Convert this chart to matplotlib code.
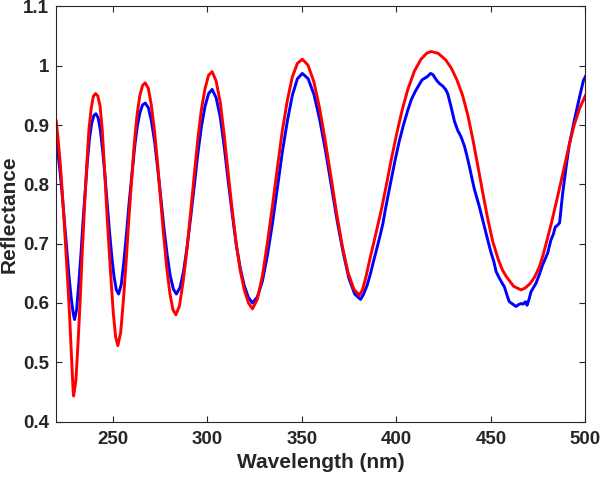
import matplotlib
matplotlib.use("Agg")
import matplotlib.pyplot as plt

# Measured reflectance (blue, noisy)
meas_wl = [
    220.0, 221.0, 222.0, 223.0, 224.0, 225.0, 226.0, 227.0, 228.0, 229.0, 229.7,
    230.8, 231.9, 233.1, 234.2, 235.4, 236.5, 237.6, 238.7, 239.9, 241.0,
    242.2, 243.4, 244.6, 245.8, 247.0, 248.2, 249.4, 250.6, 251.8, 253.0,
    254.4, 255.8, 257.2, 258.6, 260.1, 261.5, 262.9, 264.3, 265.7, 267.1,
    268.8, 270.4, 272.1, 273.7, 275.4, 277.0, 278.7, 280.3, 282.0, 283.6,
    285.5, 287.4, 289.3, 291.2, 293.1, 294.9, 296.8, 298.7, 300.6, 302.5,
    304.6, 306.8, 308.9, 311.0, 313.2, 315.3, 317.4, 319.5, 321.7, 323.8,
    326.4, 329.1, 331.7, 334.4, 337.0, 339.6, 342.3, 344.9, 347.6, 350.2,
    353.3, 356.4, 359.4, 362.5, 365.6, 368.7, 371.8, 374.8, 377.9, 381.0,
    382.5, 384.5, 386.3, 388.0, 389.8, 391.6, 392.9, 394.1, 395.8, 397.5,
    399.3, 401.5, 403.7, 406.0, 408.0, 410.0, 412.0, 413.5, 415.0, 416.5, 418.0,
    419.3, 421.1, 422.7, 424.4, 426.0, 427.1, 428.8, 430.7, 432.4, 434.2,
    436.0, 437.2, 438.6, 439.8, 441.2, 442.1, 443.8, 445.6, 447.0, 448.3,
    450.1, 451.5, 452.7, 454.4, 455.8, 457.1, 458.8, 459.7, 461.5, 463.3,
    464.5, 465.9, 467.0, 468.2, 469.1, 470.2, 471.2, 472.5, 473.8, 475.6,
    477.3, 480.0, 481.7, 483.0, 484.0, 485.2, 486.3, 487.9, 489.7, 491.4,
    494.1, 496.7, 498.9, 500.0,
]
meas_refl = [
    0.872, 0.850, 0.822, 0.788, 0.750, 0.710, 0.672, 0.637, 0.606, 0.582, 0.572,
    0.589, 0.631, 0.683, 0.739, 0.791, 0.839, 0.877, 0.902, 0.916, 0.919,
    0.912, 0.890, 0.856, 0.814, 0.767, 0.720, 0.678, 0.644, 0.622, 0.615,
    0.631, 0.670, 0.718, 0.770, 0.818, 0.863, 0.898, 0.921, 0.934, 0.937,
    0.929, 0.906, 0.871, 0.826, 0.776, 0.726, 0.681, 0.646, 0.623, 0.615,
    0.626, 0.654, 0.696, 0.746, 0.799, 0.851, 0.897, 0.931, 0.953, 0.960,
    0.946, 0.913, 0.863, 0.805, 0.748, 0.697, 0.658, 0.629, 0.609, 0.600,
    0.610, 0.637, 0.680, 0.734, 0.794, 0.854, 0.907, 0.950, 0.978, 0.987,
    0.978, 0.951, 0.909, 0.856, 0.797, 0.737, 0.685, 0.642, 0.615, 0.606,
    0.614, 0.630, 0.650, 0.672, 0.694, 0.717, 0.735, 0.757, 0.785, 0.812,
    0.841, 0.873, 0.900, 0.925, 0.944, 0.957, 0.968, 0.976, 0.979, 0.982, 0.987,
    0.985, 0.976, 0.970, 0.966, 0.960, 0.953, 0.932, 0.906, 0.891, 0.880,
    0.864, 0.849, 0.830, 0.812, 0.792, 0.782, 0.763, 0.740, 0.722, 0.706,
    0.684, 0.670, 0.653, 0.642, 0.634, 0.627, 0.610, 0.602, 0.598, 0.594,
    0.597, 0.599, 0.598, 0.602, 0.596, 0.607, 0.619, 0.626, 0.633, 0.648,
    0.664, 0.684, 0.706, 0.716, 0.728, 0.731, 0.735, 0.784, 0.828, 0.866,
    0.908, 0.945, 0.975, 0.982,
]

# Fitted reflectance (red, smooth)
fit_wl = [
    220.0, 221.0, 222.0, 223.0, 224.0, 225.0, 226.0, 227.0, 227.8, 228.4, 228.9, 229.2,
    230.4, 231.5, 232.7, 233.8, 235.0, 236.2, 237.3, 238.5, 239.6, 240.8,
    242.0, 243.2, 244.3, 245.5, 246.7, 247.9, 249.1, 250.2, 251.4, 252.6,
    254.1, 255.5, 257.0, 258.4, 259.9, 261.3, 262.8, 264.2, 265.7, 267.1,
    268.7, 270.3, 272.0, 273.6, 275.2, 276.8, 278.4, 280.1, 281.7, 283.3,
    285.2, 287.1, 289.1, 291.0, 292.9, 294.8, 296.7, 298.7, 300.6, 302.5,
    304.6, 306.8, 308.9, 311.0, 313.2, 315.3, 317.4, 319.5, 321.7, 323.8,
    326.4, 329.1, 331.7, 334.4, 337.0, 339.6, 342.3, 344.9, 347.6, 350.2,
    353.2, 356.3, 359.3, 362.3, 365.4, 368.4, 371.4, 374.4, 377.5, 380.4,
    382.0, 383.8, 385.8, 388.9, 392.0, 394.6, 397.2, 400.1, 403.0, 406.0,
    409.5, 413.0, 416.0, 418.3, 422.0, 426.0, 429.0, 432.0, 435.0, 437.8,
    440.4, 443.0, 445.7, 448.3, 450.9, 454.0, 456.0, 458.0, 462.0, 465.9,
    468.0, 470.5, 473.0, 475.5, 477.5, 479.5, 482.0, 485.0, 488.0, 491.0,
    494.0, 497.0, 500.0,
]
fit_refl = [
    0.907, 0.876, 0.840, 0.797, 0.748, 0.695, 0.640, 0.583, 0.530, 0.487, 0.455, 0.443,
    0.469, 0.530, 0.606, 0.688, 0.764, 0.836, 0.892, 0.928, 0.948, 0.953,
    0.949, 0.932, 0.894, 0.830, 0.758, 0.694, 0.634, 0.583, 0.543, 0.528,
    0.550, 0.603, 0.670, 0.741, 0.807, 0.869, 0.918, 0.949, 0.967, 0.971,
    0.962, 0.934, 0.890, 0.836, 0.776, 0.715, 0.661, 0.617, 0.589, 0.580,
    0.595, 0.635, 0.688, 0.750, 0.812, 0.873, 0.924, 0.961, 0.984, 0.990,
    0.974, 0.938, 0.882, 0.818, 0.754, 0.698, 0.654, 0.622, 0.600, 0.590,
    0.606, 0.646, 0.701, 0.764, 0.828, 0.890, 0.942, 0.981, 1.004, 1.011,
    1.001, 0.973, 0.929, 0.874, 0.812, 0.750, 0.695, 0.651, 0.623, 0.613,
    0.622, 0.643, 0.672, 0.714, 0.757, 0.798, 0.841, 0.885, 0.925, 0.960,
    0.991, 1.011, 1.021, 1.024, 1.021, 1.010, 0.996, 0.976, 0.950, 0.916,
    0.876, 0.832, 0.785, 0.742, 0.704, 0.672, 0.656, 0.645, 0.628, 0.622,
    0.625, 0.632, 0.643, 0.660, 0.680, 0.704, 0.735, 0.776, 0.818, 0.861,
    0.900, 0.929, 0.950,
]

x_ticks = [250, 300, 350, 400, 450, 500]
y_ticks = [0.4, 0.5, 0.6, 0.7, 0.8, 0.9, 1.0, 1.1]
y_tick_labels = ["0.4", "0.5", "0.6", "0.7", "0.8", "0.9", "1", "1.1"]

plt.rcParams['font.family'] = ['Liberation Sans', 'DejaVu Sans']
plt.rcParams['font.weight'] = 'bold'

dark = '#262626'

fig = plt.figure(figsize=(6.0, 4.79), dpi=100)
ax = fig.add_axes([0.0937, 0.120, 0.8821, 0.8666])

ax.plot(meas_wl, meas_refl, color='#0000ff', linewidth=2.1, solid_joinstyle='round')
ax.plot(fit_wl, fit_refl, color='#ff0000', linewidth=2.1, solid_joinstyle='round')

ax.set_xlim(220, 500)
ax.set_ylim(0.4, 1.1)
ax.set_xticks(x_ticks)
ax.set_yticks(y_ticks)
ax.set_yticklabels(y_tick_labels)

ax.tick_params(direction='in', top=True, right=True, length=4.5, width=0.8,
               colors=dark, labelsize=13.5)
ax.tick_params(axis='x', pad=7)
ax.tick_params(axis='y', pad=5)
for lab in ax.get_xticklabels() + ax.get_yticklabels():
    lab.set_fontweight('bold')
for sp in ax.spines.values():
    sp.set_color(dark)
    sp.set_linewidth(0.8)

fig.text(0.5347, 1 - 463 / 479, "Wavelength (nm)", ha='center', va='center',
         fontsize=15, fontweight='bold', color=dark)
fig.text(9 / 600, 1 - 214 / 479, "Reflectance", ha='center', va='center',
         rotation=90, fontsize=15, fontweight='bold', color=dark)

fig.savefig("out.png", dpi=100)
